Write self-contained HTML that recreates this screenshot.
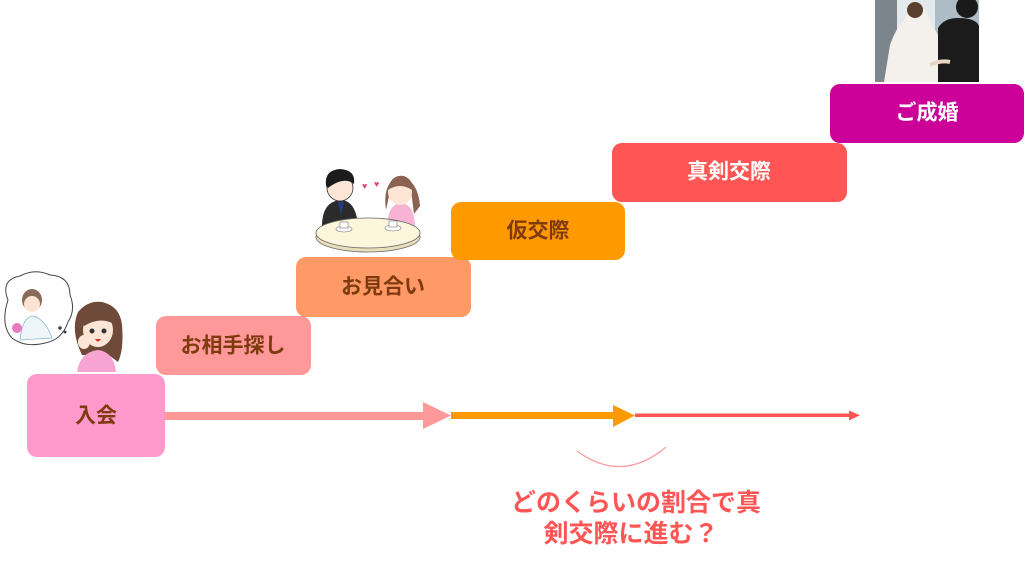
<!DOCTYPE html>
<html><head><meta charset="utf-8">
<style>
html,body{margin:0;padding:0;background:#fff;}
body{width:1024px;height:565px;overflow:hidden;position:relative;}
svg{position:absolute;left:0;top:0;}
text{font-family:"Liberation Sans","Noto Sans CJK JP",sans-serif;font-weight:bold;}
</style></head>
<body>
<svg width="1024" height="565" viewBox="0 0 1024 565" xmlns="http://www.w3.org/2000/svg">
  <!-- photo -->
  <rect x="875" y="0" width="104" height="82" fill="#8d969c"/>
  <rect x="875" y="0" width="22" height="82" fill="#7c858b"/>
  <rect x="897" y="0" width="40" height="82" fill="#e4e9ec"/>
  <rect x="935" y="0" width="44" height="82" fill="#aebcc6"/>
  <path d="M884 82 L890 45 Q896 28 904 20 Q913 4 922 8 Q930 14 930 24 Q940 32 944 60 L950 82 Z" fill="#f4f1ec"/>
  <ellipse cx="915" cy="10" rx="8" ry="8" fill="#5a3e2e"/>
  <path d="M938 82 L938 28 Q944 18 958 18 Q976 18 979 26 L979 82 Z" fill="#1b1b1b"/>
  <ellipse cx="967" cy="7" rx="11" ry="11" fill="#1a1a1a"/>
  <path d="M930 65 Q940 60 950 62" stroke="#e9d6c4" stroke-width="4" fill="none"/>

  <!-- thought bubble & woman -->
  <path d="M8 300 Q0 280 20 276 Q35 268 50 275 Q70 276 70 295 Q76 310 68 322 Q62 340 45 343 Q25 348 12 338 Q0 325 8 300 Z" fill="#fff" stroke="#444" stroke-width="1"/>
  <ellipse cx="32" cy="300" rx="10" ry="11" fill="#8a6a58"/>
  <ellipse cx="32" cy="304" rx="8" ry="8" fill="#fde3d3"/>
  <path d="M20 340 Q22 318 32 316 Q45 318 52 338 Z" fill="#eef6fa" stroke="#8fb4c8" stroke-width="0.8"/>
  <circle cx="17" cy="328" r="5" fill="#e77bc0"/>
  <circle cx="60" cy="328" r="1.8" fill="#444"/>
  <circle cx="65" cy="332" r="1.5" fill="#444"/>
  <path d="M82 355 Q70 330 78 312 Q88 300 102 302 Q120 306 122 325 Q124 350 118 362 L110 356 Z" fill="#6e4a3a"/>
  <ellipse cx="98" cy="330" rx="15" ry="17" fill="#fde5d6"/>
  <path d="M82 322 Q90 306 104 310 Q114 314 114 324 Q100 316 84 326 Z" fill="#6e4a3a"/>
  <circle cx="92" cy="331" r="2.5" fill="#333"/><circle cx="104" cy="331" r="2.5" fill="#333"/>
  <path d="M95 339 Q98 344 101 339 Z" fill="#d33"/>
  <path d="M77 372 Q80 352 98 350 Q114 352 116 372 Z" fill="#f7a4d2"/>
  <ellipse cx="84" cy="342" rx="6" ry="7" fill="#fde5d6"/>

  <!-- couple at table -->
  <path d="M322 226 Q322 202 340 200 Q356 200 358 226 Z" fill="#2b2b2b"/>
  <path d="M338 202 L341 216 L344 202 Z" fill="#223a80"/>
  <ellipse cx="340" cy="188" rx="13" ry="13" fill="#fde5d6" stroke="#333" stroke-width="0.8"/>
  <path d="M326 186 Q324 170 340 169 Q356 170 354 184 Q344 176 328 188 Z" fill="#1c1c1c"/>
  <path d="M387 226 Q388 204 401 203 Q414 204 415 226 Z" fill="#f8b2d4"/>
  <path d="M386 210 Q382 182 400 176 Q418 180 420 206 L414 214 L411 190 L390 192 Z" fill="#8a6450"/>
  <ellipse cx="400" cy="192" rx="12" ry="13" fill="#fde5d6"/>
  <path d="M388 188 Q392 174 404 176 Q414 180 412 190 Q400 182 388 190 Z" fill="#8a6450"/>
  <text x="362" y="189" font-size="9" fill="#e44c77">♥</text>
  <text x="374" y="187" font-size="9" fill="#e44c77">♥</text>
  <ellipse cx="368" cy="237" rx="52" ry="15" fill="#e8dfb8" stroke="#666" stroke-width="0.8"/>
  <ellipse cx="368" cy="233" rx="52" ry="15" fill="#fcf6dc" stroke="#666" stroke-width="0.8"/>
  <ellipse cx="344" cy="229" rx="8" ry="3" fill="#fff" stroke="#777" stroke-width="0.6"/>
  <rect x="340" y="222" width="8" height="6" fill="#fff" stroke="#777" stroke-width="0.6"/>
  <ellipse cx="393" cy="228" rx="8" ry="3" fill="#fff" stroke="#777" stroke-width="0.6"/>
  <rect x="389" y="221" width="8" height="6" fill="#fff" stroke="#777" stroke-width="0.6"/>

  <!-- boxes -->
  <rect x="27" y="374" width="138" height="83" rx="10" fill="#ff99cc"/>
  <rect x="156" y="316" width="155" height="59" rx="10" fill="#ff9999"/>
  <rect x="296" y="257" width="175" height="60" rx="10" fill="#ff9966"/>
  <rect x="451" y="202" width="174" height="58" rx="10" fill="#ff9900"/>
  <rect x="612" y="143" width="235" height="59" rx="10" fill="#ff5555"/>
  <rect x="830" y="84" width="194" height="59" rx="10" fill="#cc0099"/>

  <g font-size="21" text-anchor="middle" dominant-baseline="central">
    <text x="96" y="416" fill="#7f3b0f">入会</text>
    <text x="233" y="346" fill="#7f3b0f">お相手探し</text>
    <text x="383" y="287" fill="#7f3b0f">お見合い</text>
    <text x="538" y="231" fill="#7f3b0f">仮交際</text>
    <text x="729" y="172" fill="#ffffff">真剣交際</text>
    <text x="927" y="113" fill="#ffffff">ご成婚</text>
  </g>

  <!-- arrows -->
  <rect x="165" y="412" width="260" height="8" fill="#ff9999"/>
  <polygon points="423,402 451,415.5 423,429" fill="#ff9999"/>
  <rect x="451" y="412" width="164" height="7" fill="#ff9900"/>
  <polygon points="613,405 635,415.5 613,427" fill="#ff9900"/>
  <rect x="635" y="413.5" width="216" height="3.5" fill="#ff5555"/>
  <polygon points="849,410.5 860,415.3 849,420.5" fill="#ff5555"/>

  <path d="M577 451 Q622 484 666 447" stroke="#ff9999" stroke-width="1.2" fill="none"/>

  <g font-size="25" fill="#ff5555" text-anchor="middle">
    <text x="636" y="511">どのくらいの割合で真</text>
    <text x="631" y="542">剣交際に進む？</text>
  </g>
</svg>
</body></html>
